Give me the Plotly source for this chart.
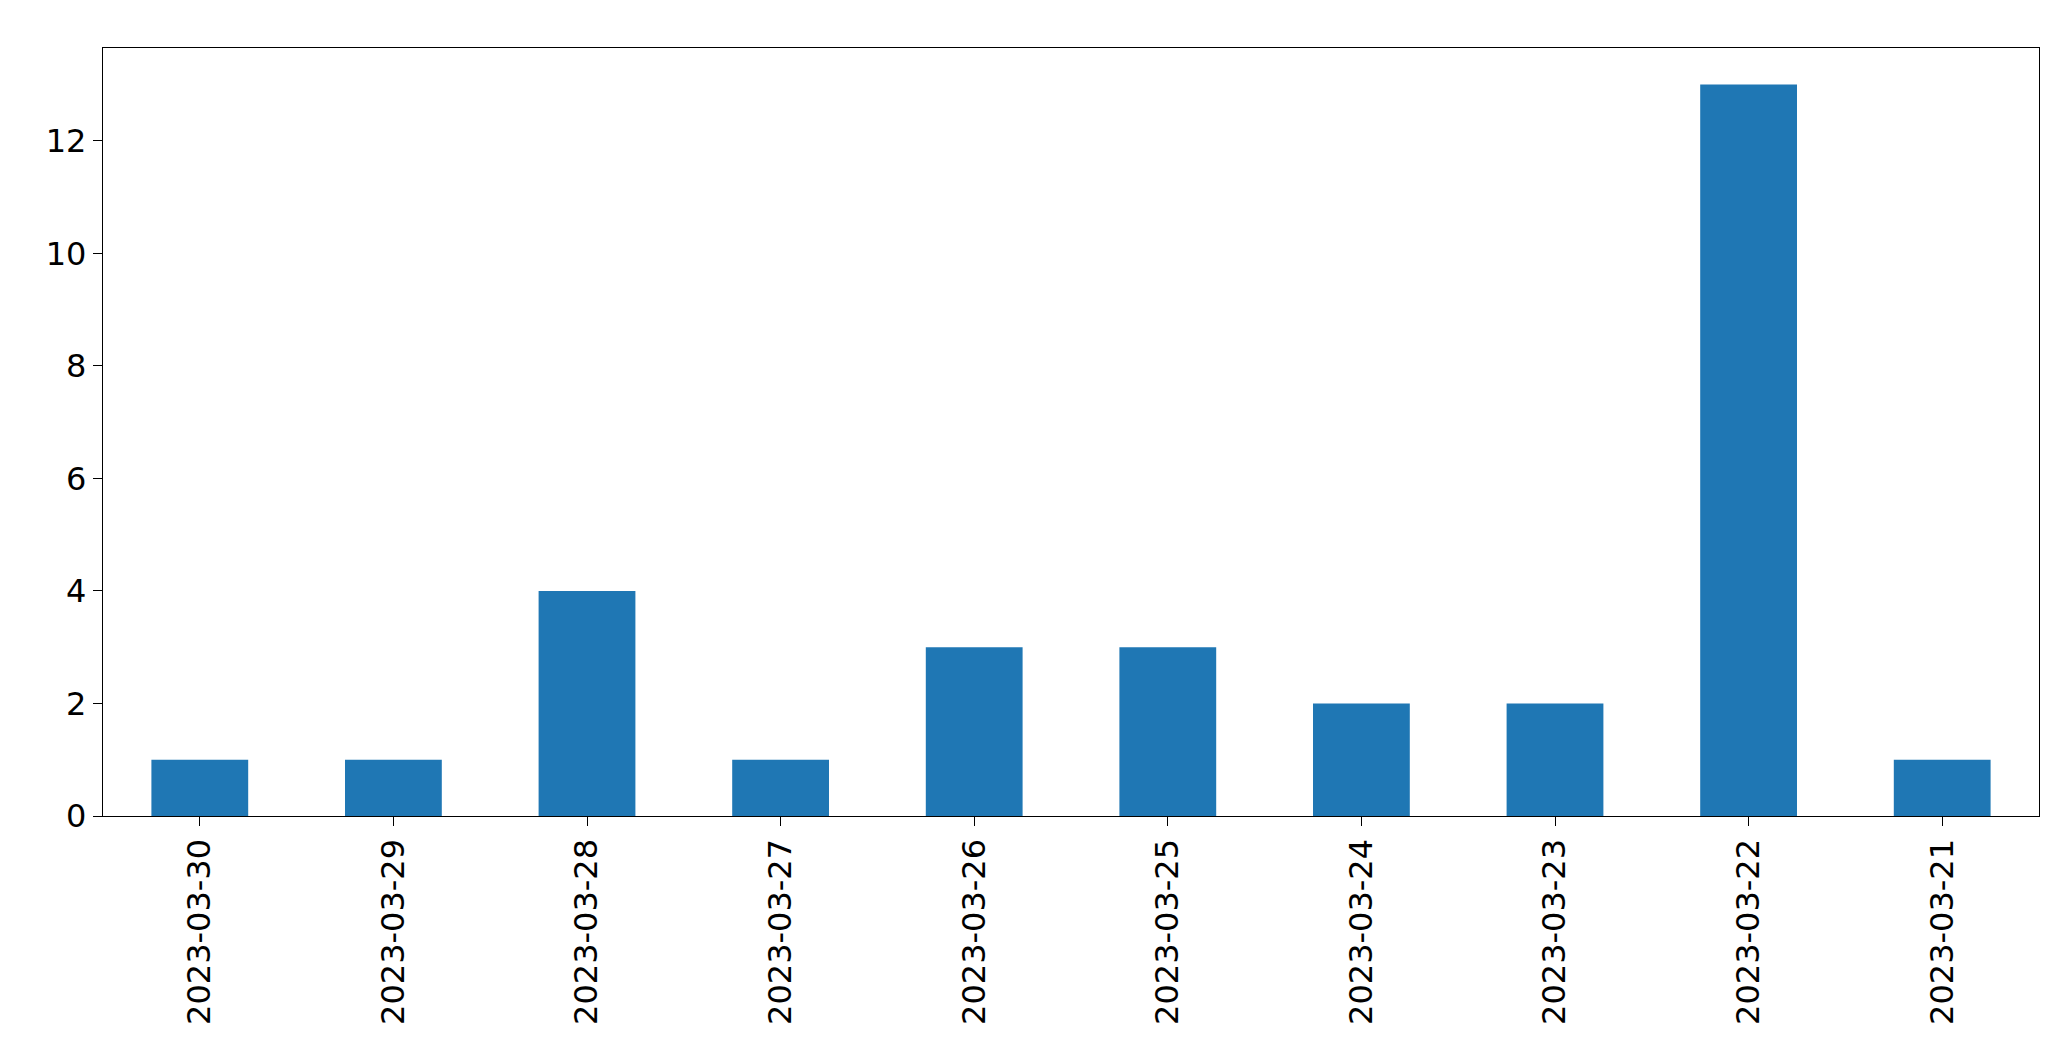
import plotly.graph_objects as go

dates = ["2023-03-30","2023-03-29","2023-03-28","2023-03-27","2023-03-26",
         "2023-03-25","2023-03-24","2023-03-23","2023-03-22","2023-03-21"]
counts = [1, 1, 4, 1, 3, 3, 2, 2, 13, 1]

fig = go.Figure(go.Bar(x=list(range(len(dates))), y=counts, width=0.5,
                       marker=dict(color="#1f77b4", line=dict(width=0))))
axis_common = dict(showline=True, linecolor="black", linewidth=1.3, mirror=True,
                   ticks="outside", ticklen=9, tickwidth=1.3, tickcolor="black",
                   showgrid=False, zeroline=False,
                   tickfont=dict(family="DejaVu Sans", size=32, color="black"))
fig.update_layout(
    width=2071, height=1061, plot_bgcolor="white", paper_bgcolor="white",
    margin=dict(l=95, r=40, t=40, b=253), showlegend=False,
    xaxis=dict(range=[-0.5, 9.5], tickmode="array", tickvals=list(range(len(dates))),
               ticktext=dates, tickangle=-90, **axis_common),
    yaxis=dict(range=[0, 13.65], tickvals=[0, 2, 4, 6, 8, 10, 12], **axis_common),
)
fig.write_html("out.html")
